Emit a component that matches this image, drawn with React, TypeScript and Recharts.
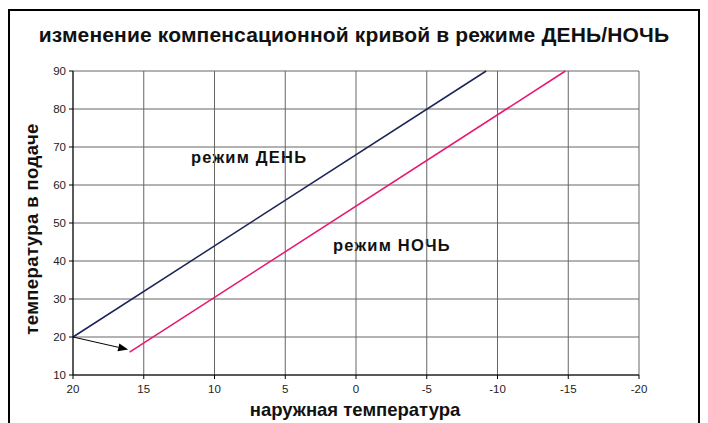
import React from "react";
import { LineChart, Line, XAxis, YAxis, CartesianGrid, ReferenceLine } from "recharts";

const xTicks = [20, 15, 10, 5, 0, -5, -10, -15, -20];
const yTicks = [10, 20, 30, 40, 50, 60, 70, 80, 90];
const dayX = [20, -9.2];
const dayY = [20, 90];
const nightX = [16, -14.8];
const nightY = [16, 90];
const arrowFrom = { x: 20, y: 20 };
const arrowTo = { x: 16.1, y: 16.7 };

const dayData = dayX.map((x, i) => ({ x, day: dayY[i] }));
const nightData = nightX.map((x, i) => ({ x, night: nightY[i] }));

const FONT = "'Liberation Sans', Arial, sans-serif";

const ArrowShape = (props: any) => {
  const { x1, y1, x2, y2 } = props;
  const ang = Math.atan2(y2 - y1, x2 - x1);
  const len = 10;
  const w = 4;
  const bx = x2 - len * Math.cos(ang);
  const by = y2 - len * Math.sin(ang);
  const px = -Math.sin(ang) * w;
  const py = Math.cos(ang) * w;
  return (
    <g>
      <line x1={x1} y1={y1} x2={bx} y2={by} stroke="#000" strokeWidth={1} />
      <polygon points={`${x2},${y2} ${bx + px},${by + py} ${bx - px},${by - py}`} fill="#000" />
    </g>
  );
};

export default function App() {
  return (
    <div style={{ position: "relative", width: 692, height: 415, fontFamily: FONT }}>
      <div
        style={{
          position: "absolute",
          left: 0,
          top: 1,
          width: 692,
          height: 440,
          border: "2px solid #000",
          boxSizing: "border-box",
        }}
      />
      <div
        style={{
          position: "absolute",
          left: 0,
          width: 692,
          top: 15,
          lineHeight: "24px",
          textAlign: "center",
          fontWeight: "bold",
          fontSize: 21,
          letterSpacing: 0.15,
          color: "#111",
          whiteSpace: "nowrap",
        }}
      >
        изменение компенсационной кривой в режиме ДЕНЬ/НОЧЬ
      </div>
      <div
        style={{
          position: "absolute",
          left: 347,
          top: 391,
          lineHeight: "22px",
          fontWeight: "bold",
          fontSize: 18.5,
          color: "#111",
          whiteSpace: "nowrap",
          transform: "translateX(-50%)",
        }}
      >
        наружная температура
      </div>
      <div
        style={{
          position: "absolute",
          left: 24,
          top: 221,
          lineHeight: "22px",
          fontWeight: "bold",
          fontSize: 18.5,
          letterSpacing: 0.4,
          color: "#111",
          whiteSpace: "nowrap",
          transform: "translate(-50%, -50%) rotate(-90deg)",
        }}
      >
        температура в подаче
      </div>
      <div style={{ position: "absolute", left: 183, top: 140, lineHeight: "19px", fontWeight: "bold", fontSize: 16.5, letterSpacing: 1.2, color: "#111", whiteSpace: "nowrap" }}>
        режим ДЕНЬ
      </div>
      <div style={{ position: "absolute", left: 325, top: 228, lineHeight: "19px", fontWeight: "bold", fontSize: 16.5, letterSpacing: 1.2, color: "#111", whiteSpace: "nowrap" }}>
        режим НОЧЬ
      </div>
      <div style={{ position: "absolute", left: 0, top: 0 }}>
        <LineChart width={692} height={415} margin={{ top: 63, right: 61, left: 0, bottom: 18 }}>
          <CartesianGrid stroke="#666" strokeWidth={1} />
          <XAxis
            type="number"
            dataKey="x"
            domain={[-20, 20]}
            ticks={xTicks}
            reversed
            allowDuplicatedCategory={false}
            height={30}
            stroke="#000"
            tickSize={4}
            tickMargin={6}
            tick={{ fontSize: 11.5, fill: "#222", fontFamily: FONT }}
          />
          <YAxis
            type="number"
            domain={[10, 90]}
            ticks={yTicks}
            width={65}
            stroke="#000"
            tickSize={4}
            tickMargin={3}
            tick={{ fontSize: 11.5, fill: "#222", fontFamily: FONT }}
          />
          <ReferenceLine segment={[arrowFrom, arrowTo]} shape={ArrowShape} ifOverflow="visible" />
          <Line data={dayData} dataKey="day" stroke="#1c2456" strokeWidth={1.5} dot={false} isAnimationActive={false} />
          <Line data={nightData} dataKey="night" stroke="#e6176f" strokeWidth={1.5} dot={false} isAnimationActive={false} />
        </LineChart>
      </div>
    </div>
  );
}
